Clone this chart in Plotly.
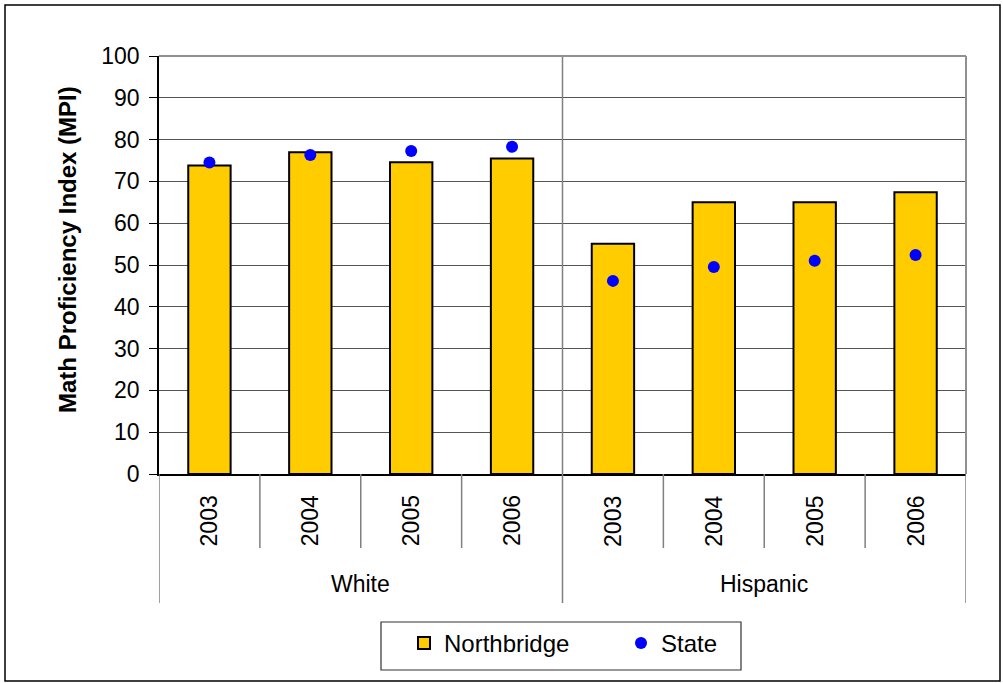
import plotly.graph_objects as go

groups = ["White", "Hispanic"]
years = ["2003", "2004", "2005", "2006"]
northbridge = [73.8, 77.0, 74.6, 75.5, 55.1, 65.0, 65.0, 67.4]
state = [74.5, 76.3, 77.3, 78.3, 46.2, 49.5, 51.0, 52.4]
y_title = "<b>Math Proficiency Index (MPI)</b>"

W, H = 1003, 683
L, R, T, B = 159, 37, 56, 209
pw, ph = W - L - R, H - T - B
FONT = "Liberation Sans, Arial"

def py(px):  # pixel y -> paper y
    return (H - B - px) / ph

def pxx(px):  # pixel x -> paper x
    return (px - L) / pw

xs = list(range(len(northbridge)))

fig = go.Figure()
fig.add_trace(go.Bar(x=xs, y=northbridge, name="Northbridge", width=0.42,
                     marker=dict(color="#FFCC00", line=dict(color="black", width=2))))
fig.add_trace(go.Scatter(x=xs, y=state, name="State", mode="markers",
                         marker=dict(color="#0000FF", size=12)))

shapes = []
annotations = []
for gi, g in enumerate(groups):
    for yi, yr in enumerate(years):
        i = gi * len(years) + yi
        annotations.append(dict(x=i, y=py(521), xref="x", yref="paper", text=yr,
                                textangle=-90, showarrow=False, xanchor="center", yanchor="middle",
                                font=dict(family=FONT, size=23, color="black")))
        if yi < len(years) - 1:
            shapes.append(dict(type="line", xref="x", yref="paper", x0=i + 0.5, x1=i + 0.5,
                               y0=0, y1=py(548), line=dict(color="#808080", width=1.5)))
    c = gi * len(years) + (len(years) - 1) / 2
    annotations.append(dict(x=c, y=py(584), xref="x", yref="paper", text=g, showarrow=False,
                            xanchor="center", yanchor="middle",
                            font=dict(family=FONT, size=23, color="black")))
# y axis title
annotations.append(dict(x=pxx(67), y=py(250), xref="paper", yref="paper", text=y_title,
                        textangle=-90, showarrow=False, xanchor="center", yanchor="middle",
                        font=dict(family=FONT, size=24, color="black")))
for xv in [-0.5, len(years) - 0.5, len(northbridge) - 0.5]:
    shapes.append(dict(type="line", xref="x", yref="paper", x0=xv, x1=xv,
                       y0=1 if xv != -0.5 else 0, y1=py(603),
                       line=dict(color="#808080", width=1.5)))
# plot area top/right border
shapes.append(dict(type="line", xref="paper", yref="paper", x0=0, x1=1, y0=1, y1=1,
                   line=dict(color="#909090", width=2)))
shapes.append(dict(type="line", xref="paper", yref="paper", x0=1, x1=1, y0=0, y1=1,
                   line=dict(color="#909090", width=2)))
# legend box
shapes.append(dict(type="rect", xref="paper", yref="paper", x0=pxx(381), x1=pxx(741),
                   y0=py(670), y1=py(622), line=dict(color="#333333", width=1.2)))
# outer chart border
shapes.append(dict(type="rect", xref="paper", yref="paper", x0=pxx(5), x1=pxx(1000),
                   y0=py(681), y1=py(5), line=dict(color="black", width=1.5), layer="below"))

fig.update_layout(
    width=W, height=H,
    margin=dict(l=L, r=R, t=T, b=B),
    paper_bgcolor="white", plot_bgcolor="white",
    font=dict(family=FONT, size=23, color="black"),
    showlegend=True,
    legend=dict(orientation="h", x=pxx(404), xanchor="left", y=py(621), yanchor="top",
                borderwidth=0, bgcolor="rgba(0,0,0,0)", font=dict(size=24),
                entrywidth=172, itemwidth=30),
    xaxis=dict(range=[-0.5, len(northbridge) - 0.5], showticklabels=False, showgrid=False,
               zeroline=False, showline=True, linecolor="black", linewidth=1.5, ticks=""),
    yaxis=dict(range=[0, 100], dtick=10, tick0=0, showgrid=True, gridcolor="#555555",
               gridwidth=1.2, ticks="outside", ticklen=8, tickcolor="black",
               ticklabelstandoff=5,
               showline=True, linecolor="black", linewidth=1.5, zeroline=False,
               tickfont=dict(size=23)),
    shapes=shapes, annotations=annotations, bargap=0.5,
)

fig.write_html("out.html")
